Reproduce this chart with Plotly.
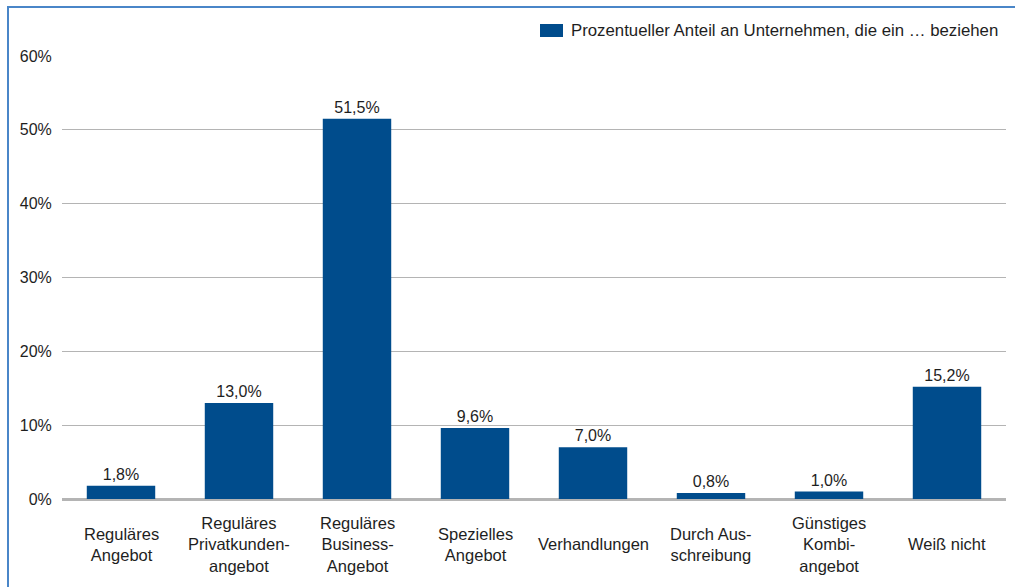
import plotly.graph_objects as go

# Categories (multi-line labels) and shares in percent
categories = [
    "Reguläres<br>Angebot",
    "Reguläres<br>Privatkunden-<br>angebot",
    "Reguläres<br>Business-<br>Angebot",
    "Spezielles<br>Angebot",
    "Verhandlungen",
    "Durch Aus-<br>schreibung",
    "Günstiges<br>Kombi-<br>angebot",
    "Weiß nicht",
]
shares = [1.8, 13.0, 51.5, 9.6, 7.0, 0.8, 1.0, 15.2]
y_ticks = [0, 10, 20, 30, 40, 50, 60]
series_name = "Prozentueller Anteil an Unternehmen, die ein … beziehen"

BAR = "#004C8C"
GRID = "#b4b4b4"
TXT = "#1e1e1e"
FONT = "Liberation Sans, Arial, sans-serif"

W, H = 1015, 587
L, R, T, B = 62, 9, 56, 88
PW, PH = W - L - R, H - T - B


def px_x(p):
    return (p - L) / PW


def px_y(p):
    return (H - B - p) / PH


labels = [f"{v:.1f}%".replace(".", ",") for v in shares]
xs = list(range(len(categories)))

fig = go.Figure(
    go.Bar(
        x=xs,
        y=shares,
        marker=dict(color=BAR, line=dict(width=0)),
        text=labels,
        textposition="outside",
        textfont=dict(family=FONT, size=16, color=TXT),
        cliponaxis=False,
        showlegend=False,
        width=0.58,
    )
)

# Category labels centred vertically below the axis
for i, c in enumerate(categories):
    fig.add_annotation(
        x=xs[i], y=px_y(544), xref="x", yref="paper",
        text=c, showarrow=False, xanchor="center", yanchor="middle",
        align="center", font=dict(family=FONT, size=16.5, color=TXT),
    )

# Legend swatch and text
fig.add_shape(type="rect", xref="paper", yref="paper",
              x0=px_x(540), x1=px_x(563), y0=px_y(37), y1=px_y(24),
              fillcolor=BAR, line=dict(width=0))
fig.add_annotation(x=px_x(569), y=px_y(30.5), xref="paper", yref="paper",
                   text=series_name, showarrow=False, xanchor="left",
                   yanchor="middle",
                   font=dict(family=FONT, size=16.8, color=TXT))

# Frame on the left and top
fig.add_shape(type="line", xref="paper", yref="paper",
              x0=px_x(8), x1=px_x(8), y0=px_y(7), y1=px_y(H + 5),
              line=dict(color="#4a86c8", width=2))
fig.add_shape(type="line", xref="paper", yref="paper",
              x0=px_x(7), x1=px_x(W + 5), y0=px_y(7), y1=px_y(7),
              line=dict(color="#4a86c8", width=2))

fig.update_layout(
    width=W, height=H,
    margin=dict(l=L, r=R, t=T, b=B, pad=0),
    paper_bgcolor="white", plot_bgcolor="white",
    font=dict(family=FONT, size=16, color=TXT),
    bargap=0.42,
    xaxis=dict(range=[-0.5, len(categories) - 0.5], showticklabels=False,
               showgrid=False, zeroline=False, showline=False, ticks=""),
    yaxis=dict(range=[0, 60], tickvals=y_ticks,
               ticktext=[f"{t}%" for t in y_ticks],
               showgrid=True, gridcolor=GRID, gridwidth=1,
               zeroline=True, zerolinecolor=GRID, zerolinewidth=3,
               ticks="outside", ticklen=6, tickcolor="rgba(0,0,0,0)",
               showline=False, tickfont=dict(family=FONT, size=16, color=TXT)),
)

fig.write_html("out.html")
